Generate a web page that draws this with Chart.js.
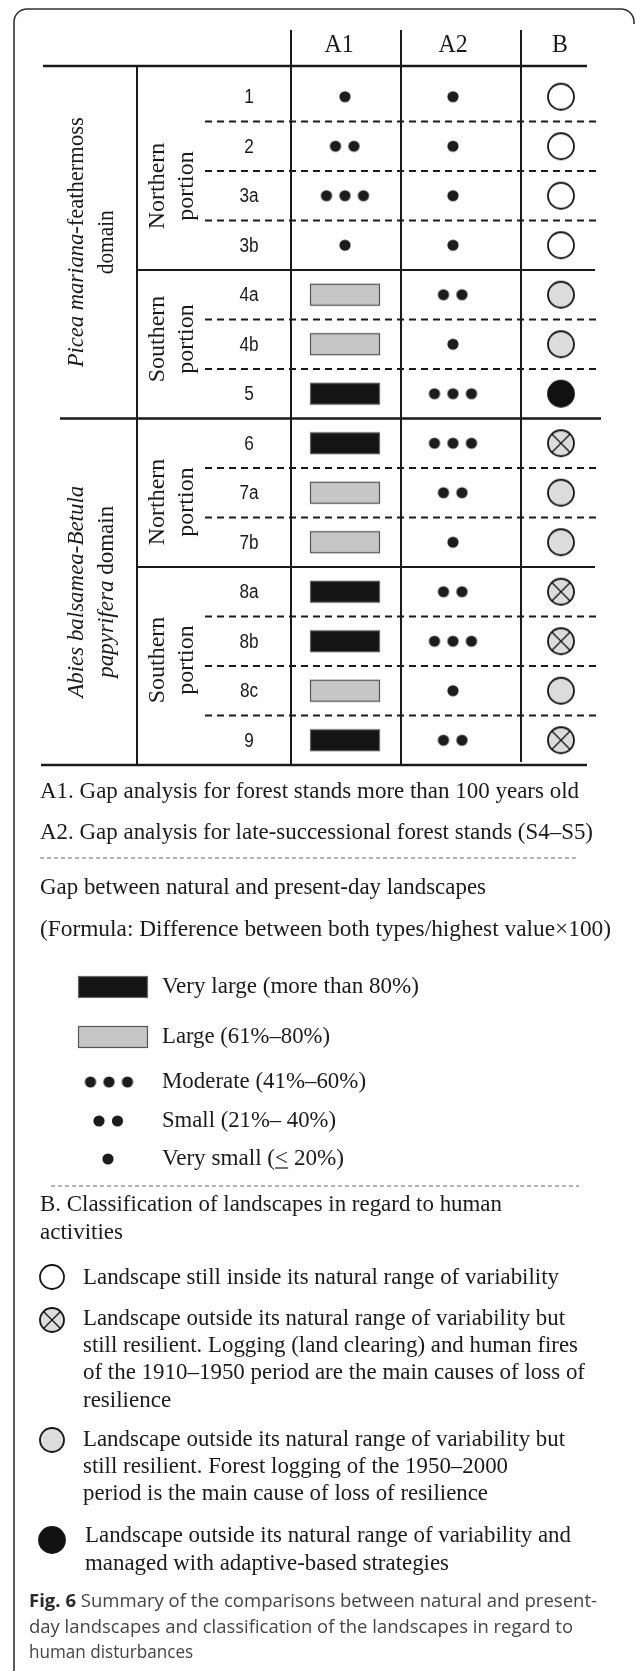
<!DOCTYPE html>
<html>
<head>
<meta charset="utf-8">
<script src="https://cdn.jsdelivr.net/npm/chart.js@4.4.1/dist/chart.umd.min.js"></script>
<style>
  html, body { margin: 0; padding: 0; background: #fff; }
  #wrap { width: 635px; height: 1671px; position: relative; }
</style>
</head>
<body>
<div id="wrap"><canvas id="myChart"></canvas></div>
<script>
// ---- data ----
const rows = ["1", "2", "3a", "3b", "4a", "4b", "5", "6", "7a", "7b", "8a", "8b", "8c", "9"];
const columns = ["A1", "A2", "B"];
// gap classes: 1 very small, 2 small, 3 moderate, 4 large, 5 very large
const gapA1 = [1, 2, 3, 1, 4, 4, 5, 5, 4, 4, 5, 5, 4, 5];
const gapA2 = [1, 1, 1, 1, 2, 1, 3, 3, 2, 1, 2, 3, 1, 2];
// B classes: inside / old (1910-1950 causes) / recent (1950-2000 logging) / adaptive
const classB = ["inside", "inside", "inside", "inside", "recent", "recent", "adaptive",
                "old", "recent", "recent", "old", "old", "recent", "old"];

// sections: [first row, last row]
const domainRows = [[0, 6], [7, 13]];
const portionRows = [[0, 3], [4, 6], [7, 9], [10, 13]];
const portionNames = ["Northern", "Southern", "Northern", "Southern"];
const domainNames = [
  [[["Picea mariana", "italic"], ["-feathermoss", "normal"]], [["domain", "normal"]]],
  [[["Abies balsamea-Betula", "italic"]], [["papyrifera", "italic"], [" domain", "normal"]]]
];

const notes = [
  "A1. Gap analysis for forest stands more than 100 years old",
  "A2. Gap analysis for late-successional forest stands (S4\u2013S5)"
];
const gapTitle = ["Gap between natural and present-day landscapes",
  "(Formula: Difference between both types/highest value\u00D7100)"];
const gapOrder = [5, 4, 3, 2, 1];
const gapLabels = {
  5: "Very large (more than 80%)",
  4: "Large (61%\u201380%)",
  3: "Moderate (41%\u201360%)",
  2: "Small (21%\u2013 40%)",
  1: "Very small (\u2264 20%)"
};
const classTitle = ["B. Classification of landscapes in regard to human", "activities"];
const classOrder = ["inside", "old", "recent", "adaptive"];
const classLabels = {
  inside: ["Landscape still inside its natural range of variability"],
  old: ["Landscape outside its natural range of variability but",
        "still resilient. Logging (land clearing) and human fires",
        "of the 1910\u20131950 period are the main causes of loss of",
        "resilience"],
  recent: ["Landscape outside its natural range of variability but",
           "still resilient. Forest logging of the 1950\u20132000",
           "period is the main cause of loss of resilience"],
  adaptive: ["Landscape outside its natural range of variability and",
             "managed with adaptive-based strategies"]
};
const caption = [
  [["Fig. 6", "bold"], [" Summary of the comparisons between natural and present-", "normal"]],
  [["day landscapes and classification of the landscapes in regard to", "normal"]],
  [["human disturbances", "normal"]]
];

// ---- glyphs ----
const INK = "#1a1a1a";
const SERIF = '"Liberation Serif", "Times New Roman", serif';

function mk(w, h) {
  const c = document.createElement("canvas");
  c.width = w; c.height = h;
  return c;
}
function dotsGlyph(n) {
  const c = mk(Math.ceil(18.5 * (n - 1) + 14), 14);
  const g = c.getContext("2d");
  g.fillStyle = "#1c1c1c";
  for (let k = 0; k < n; k++) {
    g.beginPath();
    g.arc(7 + 18.5 * k, 7, 5.6, 0, Math.PI * 2);
    g.fill();
  }
  return c;
}
function rectGlyph(fill, stroke) {
  const c = mk(72, 24);
  const g = c.getContext("2d");
  g.fillStyle = fill;
  g.fillRect(1, 1, 70, 22);
  g.strokeStyle = stroke;
  g.lineWidth = 1.2;
  g.strokeRect(1.5, 1.5, 69, 21);
  return c;
}
function circleGlyph(type, r) {
  const s = Math.ceil(2 * r + 4);
  const c = mk(s, s);
  const g = c.getContext("2d");
  const m = s / 2;
  g.beginPath();
  g.arc(m, m, r, 0, Math.PI * 2);
  g.fillStyle = type === "inside" ? "#ffffff" : type === "adaptive" ? "#111111" : "#dcdcdc";
  g.fill();
  g.lineWidth = 1.8;
  g.strokeStyle = "#151515";
  g.stroke();
  if (type === "old") {
    const d = r * 0.707;
    g.lineWidth = 1.3;
    g.beginPath();
    g.moveTo(m - d, m - d); g.lineTo(m + d, m + d);
    g.moveTo(m + d, m - d); g.lineTo(m - d, m + d);
    g.stroke();
  }
  return c;
}

const gapGlyph = {
  1: dotsGlyph(1), 2: dotsGlyph(2), 3: dotsGlyph(3),
  4: rectGlyph("#c5c6c5", "#555555"),
  5: rectGlyph("#141414", "#666666")
};
const cellCircle = {}, keyCircle = {};
classOrder.forEach(t => {
  cellCircle[t] = circleGlyph(t, 13);
  keyCircle[t] = circleGlyph(t, t === "adaptive" ? 13 : 12);
});

// ---- text helper: runs of text, optionally rotated and fitted to a length ----
function runs(ctx, parts, x, y, o) {
  ctx.save();
  const size = o.size || 23;
  const family = o.family || SERIF;
  const fontOf = st => (st === "italic" ? "italic " : st === "bold" ? "bold " : "") + size + "px " + family;
  let w = 0;
  parts.forEach(p => { ctx.font = fontOf(p[1]); w += ctx.measureText(p[0]).width; });
  let s = o.width ? o.width / w : (o.squeeze || 1);
  s = Math.max(0.8, Math.min(1.12, s));
  ctx.translate(x, y);
  if (o.rotate) ctx.rotate(-Math.PI / 2);
  ctx.scale(s, 1);
  ctx.textBaseline = "middle";
  ctx.textAlign = "left";
  let cx = o.align === "center" ? -w / 2 : 0;
  parts.forEach(p => {
    ctx.font = fontOf(p[1]);
    ctx.fillStyle = p[1] === "bold" ? (o.boldColor || o.color || INK) : (o.color || INK);
    ctx.fillText(p[0], cx, 0);
    cx += ctx.measureText(p[0]).width;
  });
  ctx.restore();
  return s;
}
function hline(ctx, x1, x2, y, lw, dash, color) {
  ctx.save();
  ctx.beginPath();
  ctx.lineWidth = lw;
  ctx.strokeStyle = color || INK;
  ctx.setLineDash(dash || []);
  ctx.moveTo(x1, y); ctx.lineTo(x2, y);
  ctx.stroke();
  ctx.restore();
}
function vline(ctx, x, y1, y2, lw) {
  ctx.save();
  ctx.beginPath();
  ctx.lineWidth = lw;
  ctx.strokeStyle = INK;
  ctx.moveTo(x, y1); ctx.lineTo(x, y2);
  ctx.stroke();
  ctx.restore();
}

const tablePlugin = {
  id: "tablePlugin",
  beforeDatasetsDraw(chart) {
    const ctx = chart.ctx;
    const yS = chart.scales.y;
    const area = chart.chartArea;
    const rowY = i => yS.getPixelForValue(i);
    const edge = i => (rowY(i) + rowY(i + 1)) / 2; // boundary below row i

    // frame
    ctx.save();
    ctx.strokeStyle = "#333";
    ctx.lineWidth = 1.6;
    ctx.beginPath();
    ctx.moveTo(14, 1672);
    ctx.lineTo(14, 22);
    ctx.arcTo(14, 9, 27, 9, 13);
    ctx.lineTo(621, 9);
    ctx.arcTo(634, 9, 634, 22, 13);
    ctx.lineTo(634, 24);
    ctx.stroke();
    ctx.restore();

    // header
    const headX = [339, 453, 560];
    columns.forEach((c, i) => runs(ctx, [[c, "normal"]], headX[i], 45, { size: 26, align: "center", squeeze: 0.92 }));
    [area.left, 401].forEach(x => vline(ctx, x, 30, area.bottom, 2));
    vline(ctx, 521, 30, area.bottom - 3, 2);
    hline(ctx, 43, 587, 66, 2.6);
    vline(ctx, 137, 66, area.bottom, 2);
    hline(ctx, 41, 587, area.bottom, 2.6);

    // row separators
    for (let i = 0; i < rows.length - 1; i++) {
      const y = edge(i);
      if (domainRows.some(d => d[1] === i)) hline(ctx, 60, 601, y, 2.6);
      else if (portionRows.some(p => p[1] === i)) hline(ctx, 137, 595, y, 2);
      else hline(ctx, 205, 597, y, 1.8, [7, 5]);
    }

    // row labels
    rows.forEach((r, i) => runs(ctx, [[r, "normal"]], 249, rowY(i) + 1, {
      size: 20, family: '"Liberation Sans", Arial, sans-serif', align: "center", squeeze: 0.86
    }));

    // domain labels (rotated)
    const domWidths = [[250, 64], [212, 172]];
    domainRows.forEach((d, k) => {
      const top = k === 0 ? 66 : edge(d[0] - 1);
      const bot = k === domainRows.length - 1 ? area.bottom : edge(d[1]);
      const cy = (top + bot) / 2;
      runs(ctx, domainNames[k][0], 77, cy, { size: 24, rotate: true, align: "center", width: domWidths[k][0] });
      runs(ctx, domainNames[k][1], 107, cy, { size: 24, rotate: true, align: "center", width: domWidths[k][1] });
    });
    // portion labels (rotated)
    const portionCY = [186, 339, 502, 660];
    portionRows.forEach((p, k) => {
      runs(ctx, [[portionNames[k], "normal"]], 158, portionCY[k], { size: 24, rotate: true, align: "center" });
      runs(ctx, [["portion", "normal"]], 187, portionCY[k], { size: 24, rotate: true, align: "center" });
    });

    // notes under the table
    runs(ctx, [[notes[0], "normal"]], 40, 792, { width: 539 });
    runs(ctx, [[notes[1], "normal"]], 40, 833, { width: 553 });
    hline(ctx, 40, 579, 858, 1, [4, 3], "#666");
    runs(ctx, [[gapTitle[0], "normal"]], 40, 888, { width: 446 });
    runs(ctx, [[gapTitle[1], "normal"]], 40, 930, { width: 571 });

    // gap key
    const keyY = { 5: 987, 4: 1037, 3: 1082, 2: 1121, 1: 1159 };
    const keyX = { 5: 113, 4: 113, 3: 109, 2: 108.5, 1: 108 };
    const keyEnd = { 5: 419, 4: 330, 3: 366, 2: 336, 1: 344 };
    gapOrder.forEach(g => {
      const im = gapGlyph[g];
      ctx.drawImage(im, keyX[g] - im.width / 2, keyY[g] - im.height / 2);
      if (g === 1) {
        // "<" is underlined in the figure
        const txt = gapLabels[g];
        const cut = txt.indexOf("\u2264");
        const parts = [[txt.slice(0, cut), "normal"], ["<", "normal"], [txt.slice(cut + 1), "normal"]];
        const s = runs(ctx, parts, 162, keyY[g], { width: keyEnd[g] - 162 });
        ctx.save();
        ctx.font = "23px " + SERIF;
        const x0 = 162 + ctx.measureText(parts[0][0]).width * s;
        const wl = ctx.measureText("<").width * s;
        ctx.restore();
        hline(ctx, x0, x0 + wl, keyY[g] + 9, 1.2);
      } else {
        runs(ctx, [[gapLabels[g], "normal"]], 162, keyY[g], { width: keyEnd[g] - 162 });
      }
    });
    hline(ctx, 51, 579, 1186, 1, [4, 3], "#666");

    // class key
    runs(ctx, [[classTitle[0], "normal"]], 40, 1205, { width: 462 });
    runs(ctx, [[classTitle[1], "normal"]], 40, 1233, {});
    const circY = { inside: 1277, old: 1320, recent: 1440, adaptive: 1540 };
    const lineY = { inside: [1278], old: [1319, 1346, 1373, 1401], recent: [1440, 1467, 1494], adaptive: [1536, 1564] };
    const lineEnd = { inside: [559], old: [565, 578, 585, 0], recent: [565, 508, 488], adaptive: [571, 449] };
    classOrder.forEach(t => {
      const im = keyCircle[t];
      ctx.drawImage(im, 52 - im.width / 2, circY[t] - im.height / 2);
      const tx = t === "adaptive" ? 85 : 83;
      classLabels[t].forEach((line, j) => {
        const e = lineEnd[t][j];
        runs(ctx, [[line, "normal"]], tx, lineY[t][j], e ? { width: e - tx } : {});
      });
    });

    // caption
    const capY = [1602, 1628, 1653];
    const capEnd = [597, 573, 0];
    caption.forEach((parts, j) => {
      runs(ctx, parts, 29, capY[j], {
        size: 18, family: '"Open Sans", "Noto Sans", sans-serif',
        color: "#444", boldColor: "#2a2a2a",
        width: capEnd[j] ? capEnd[j] - 29 : 0, squeeze: 0.95
      });
    });
  }
};

new Chart("myChart", {
  type: "scatter",
  data: {
    datasets: [
      {
        label: "A1",
        data: rows.map(r => ({ x: "A1", y: r })),
        pointStyle: c => gapGlyph[gapA1[c.dataIndex]],
        pointRadius: 5
      },
      {
        label: "A2",
        data: rows.map(r => ({ x: "A2", y: r })),
        pointStyle: c => gapGlyph[gapA2[c.dataIndex]],
        pointRadius: 5
      },
      {
        label: "B",
        data: rows.map(r => ({ x: "B", y: r })),
        pointStyle: c => cellCircle[classB[c.dataIndex]],
        pointRadius: 5
      }
    ]
  },
  options: {
    responsive: true,
    maintainAspectRatio: false,
    devicePixelRatio: 1,
    animation: false,
    events: [],
    layout: { padding: { left: 291, right: 20, top: 72, bottom: 906 } },
    scales: {
      x: { type: "category", labels: columns, offset: true, display: false },
      y: { type: "category", labels: rows, offset: true, display: false }
    },
    plugins: {
      legend: { display: false },
      tooltip: { enabled: false }
    }
  },
  plugins: [tablePlugin]
});
</script>
</body>
</html>
